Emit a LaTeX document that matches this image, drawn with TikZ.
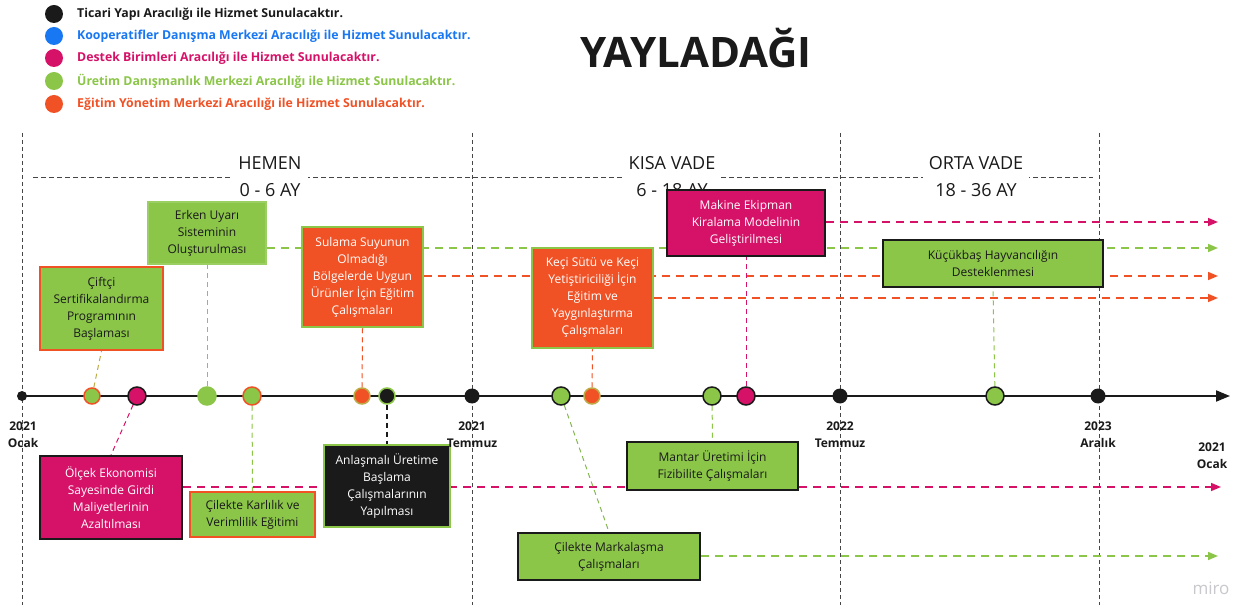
\documentclass[tikz,border=0pt]{standalone}
\usepackage{fontspec}
\setmainfont{Open Sans}
\usetikzlibrary{arrows.meta,calc}
\pgfdeclarelayer{bg}
\pgfsetlayers{bg,main}
\definecolor{cblack}{RGB}{26,26,26}
\definecolor{cblue}{RGB}{24,119,242}
\definecolor{cmag}{RGB}{214,18,104}
\definecolor{cgreen}{RGB}{139,198,72}
\definecolor{corange}{RGB}{240,82,38}
\definecolor{cgrid}{RGB}{70,70,70}
\definecolor{colive}{RGB}{190,170,70}
\definecolor{cmiro}{RGB}{200,200,205}
\begin{document}
\begin{tikzpicture}[x=1pt,y=-1pt,
  box/.style={rectangle, inner sep=2pt, align=center, font=\fontsize{12}{17}\selectfont, line width=2pt},
  gbox/.style={box, fill=cgreen, text=cblack},
  obox/.style={box, fill=corange, text=white},
  mbox/.style={box, fill=cmag, text=white},
  kbox/.style={box, fill=cblack, text=white},
  dot/.style={circle, inner sep=0pt, line width=1.5pt},
  gridline/.style={cgrid, line width=1pt, dash pattern=on 4pt off 3pt},
  conn/.style={line width=1pt, dash pattern=on 5pt off 4pt},
  ext/.style={line width=1.6pt, dash pattern=on 8pt off 6pt, -{Triangle[length=10pt,width=8pt]}},
  datelbl/.style={font=\bfseries\fontsize{12}{17}\selectfont, align=center, text=cblack, inner sep=0pt},
  phase/.style={font=\fontsize{18}{27}\selectfont, align=center, fill=white, inner xsep=6pt, inner ysep=1pt, text=cblack},
  legend/.style={font=\bfseries\fontsize{12.3}{14}\selectfont, anchor=west, inner sep=0pt}
]
\useasboundingbox (0,0) rectangle (1258,609);

% legend
\node[dot, fill=cblack, minimum size=18pt] (l1) at (54,14) {};
\node[dot, fill=cblue, minimum size=18pt] (l2) at (54,36) {};
\node[dot, fill=cmag, minimum size=18pt] (l3) at (54,58) {};
\node[dot, fill=cgreen, minimum size=18pt] (l4) at (54,81) {};
\node[dot, fill=corange, minimum size=18pt] (l5) at (54,104) {};
\node[legend, text=cblack] (t1) at (77,14) {Ticari Yapı Aracılığı ile Hizmet Sunulacaktır.};
\node[legend, text=cblue] (t2) at (77,36) {Kooperatifler Danışma Merkezi Aracılığı ile Hizmet Sunulacaktır.};
\node[legend, text=cmag] (t3) at (77,58) {Destek Birimleri Aracılığı ile Hizmet Sunulacaktır.};
\node[legend, text=cgreen] (t4) at (77,81) {Üretim Danışmanlık Merkezi Aracılığı ile Hizmet Sunulacaktır.};
\node[legend, text=corange] (t5) at (77,104) {Eğitim Yönetim Merkezi Aracılığı ile Hizmet Sunulacaktır.};

% title
\node[font=\bfseries\fontsize{42}{48}\selectfont, text=cblack] (title) at (696,48) {YAYLADAĞI};

% grid coordinates
\coordinate (v1t) at (22,133); \coordinate (v1b) at (22,605);
\coordinate (v2t) at (472,133); \coordinate (v2b) at (472,605);
\coordinate (v3t) at (840,133); \coordinate (v3b) at (840,605);
\coordinate (v4t) at (1099,133); \coordinate (v4b) at (1099,605);
\coordinate (hl) at (33,178); \coordinate (hr) at (1093,178);

% phase labels
\node[phase] (p1) at (270,176.5) {HEMEN\\0 - 6 AY};
\node[phase] (p2) at (672,176.5) {KISA VADE\\6 - 18 AY};
\node[phase] (p3) at (976,176.5) {ORTA VADE\\18 - 36 AY};

% boxes
\node[gbox, draw=corange, minimum width=123pt, minimum height=83pt] (b1) at (101.5,308.5) {Çiftçi\\Sertifikalandırma\\Programının\\Başlaması};
\node[gbox, draw=cgreen!85!white, minimum width=118pt, minimum height=62pt] (b2) at (207,233) {Erken Uyarı\\Sisteminin\\Oluşturulması};
\node[obox, draw=cgreen, line width=2.5pt, minimum width=121pt, minimum height=100pt] (b3) at (362.5,277) {Sulama Suyunun\\Olmadığı\\Bölgelerde Uygun\\Ürünler İçin Eğitim\\Çalışmaları};
\node[obox, draw=cgreen, line width=2.5pt, minimum width=121pt, minimum height=100pt] (b4) at (592.5,298) {Keçi Sütü ve Keçi\\Yetiştiriciliği İçin\\Eğitim ve\\Yaygınlaştırma\\Çalışmaları};
\node[mbox, draw=cblack, minimum width=158pt, minimum height=66pt] (b5) at (746,223) {Makine Ekipman\\Kiralama Modelinin\\Geliştirilmesi};
\node[gbox, draw=cblack, minimum width=220pt, minimum height=47pt] (b6) at (993,263.5) {Küçükbaş Hayvancılığın\\Desteklenmesi};
\node[mbox, draw=cblack, minimum width=142pt, minimum height=83pt] (b7) at (111,497.5) {Ölçek Ekonomisi\\Sayesinde Girdi\\Maliyetlerinin\\Azaltılması};
\node[gbox, draw=corange, minimum width=125pt, minimum height=45pt] (b8) at (252.5,514.5) {Çilekte Karlılık ve\\Verimlilik Eğitimi};
\node[kbox, draw=cgreen, minimum width=126pt, minimum height=82pt] (b9) at (387,486) {Anlaşmalı Üretime\\Başlama\\Çalışmalarının\\Yapılması};
\node[gbox, draw=cblack, minimum width=171pt, minimum height=48pt] (b10) at (712.5,466) {Mantar Üretimi İçin\\Fizibilite Çalışmaları};
\node[gbox, draw=cblack, minimum width=182pt, minimum height=47pt] (b11) at (609,556.5) {Çilekte Markalaşma\\Çalışmaları};

% timeline dots
\node[dot, fill=cblack, minimum size=10pt] (d0) at (22,396) {};
\node[dot, fill=cgreen, draw=corange, minimum size=16pt] (d1) at (92,396) {};
\node[dot, fill=cmag, draw=cblack, minimum size=18pt] (d2) at (137,396) {};
\node[dot, fill=cgreen, draw=cgreen, minimum size=18pt] (d3) at (207,396) {};
\node[dot, fill=cgreen, draw=corange, minimum size=18pt] (d4) at (252,396) {};
\node[dot, fill=corange, draw=colive, minimum size=16pt] (d5) at (362,396) {};
\node[dot, fill=cblack, draw=cgreen, minimum size=16pt] (d6) at (387,396) {};
\node[dot, fill=cblack, minimum size=15pt] (d7) at (472,396) {};
\node[dot, fill=cgreen, draw=cblack, minimum size=18pt] (d8) at (561,396) {};
\node[dot, fill=corange, draw=colive, minimum size=16pt] (d9) at (592,396) {};
\node[dot, fill=cgreen, draw=cblack, minimum size=18pt] (d10) at (712,396) {};
\node[dot, fill=cmag, draw=cblack, minimum size=18pt] (d11) at (746,396) {};
\node[dot, fill=cblack, minimum size=15pt] (d12) at (840,396) {};
\node[dot, fill=cgreen, draw=cblack, minimum size=18pt] (d13) at (995,396) {};
\node[dot, fill=cblack, minimum size=15pt] (d14) at (1098,396) {};
\coordinate (tlend) at (1230,396);

% date labels
\node[datelbl] (dt1) at (23,435) {2021\\Ocak};
\node[datelbl] (dt2) at (472,435) {2021\\Temmuz};
\node[datelbl] (dt3) at (840,435) {2022\\Temmuz};
\node[datelbl] (dt4) at (1098,435) {2023\\Aralık};
\node[datelbl] (dt5) at (1212,456) {2021\\Ocak};

% watermark
\node[font=\fontsize{17}{20}\selectfont, text=cmiro] (miro) at (1211,588) {miro};

% arrow end coordinates
\coordinate (mE1) at (1218,222);
\coordinate (gE1) at (1218,248);
\coordinate (oE1) at (1218,276);
\coordinate (oE2) at (1218,298);
\coordinate (mE2) at (1221,487);
\coordinate (gE2) at (1218,556);

\begin{pgfonlayer}{bg}
  \fill[white] (0,0) rectangle (1258,609);
  \draw[gridline] (v1t) -- (v1b);
  \draw[gridline] (v2t) -- (v2b);
  \draw[gridline] (v3t) -- (v3b);
  \draw[gridline] (v4t) -- (v4b);
  \draw[gridline, dash pattern=on 5pt off 3pt] (hl) -- (hr);
  % extension arrows
  \draw[ext, cmag] (b5.east |- mE1) -- (mE1);
  \draw[ext, cgreen] (b2.east |- gE1) -- (gE1);
  \draw[ext, corange] (b3.east |- oE1) -- (oE1);
  \draw[ext, corange] (b4.east |- oE2) -- (oE2);
  \draw[ext, cmag] (b7.east |- mE2) -- (mE2);
  \draw[ext, cgreen] (b11.east |- gE2) -- (gE2);
  % connectors dot to box
  \draw[conn, colive] (d1) -- (b1.south);
  \draw[conn, cmag] (d2) -- (b7.north);
  \draw[conn, cgreen] (d3) -- (b2.south);
  \draw[conn, cgreen] (d4) -- (b8.north);
  \draw[conn, corange] (d5) -- (b3.south);
  \draw[conn, cblack, line width=1.5pt] (d6) -- (b9.north);
  \draw[conn, cgreen!80!gray] (d8) -- (b11.north);
  \draw[conn, corange] (d9) -- (b4.south);
  \draw[conn, cgreen] (d10) -- (b10.north);
  \draw[conn, cmag] (d11) -- (b5.south);
  \draw[conn, cgreen] (d13) -- (b6.south);
  % timeline
  \draw[cblack, line width=2pt, -{Triangle[length=14pt,width=11pt]}] (d0.center) -- (tlend);
\end{pgfonlayer}
\end{tikzpicture}
\end{document}
